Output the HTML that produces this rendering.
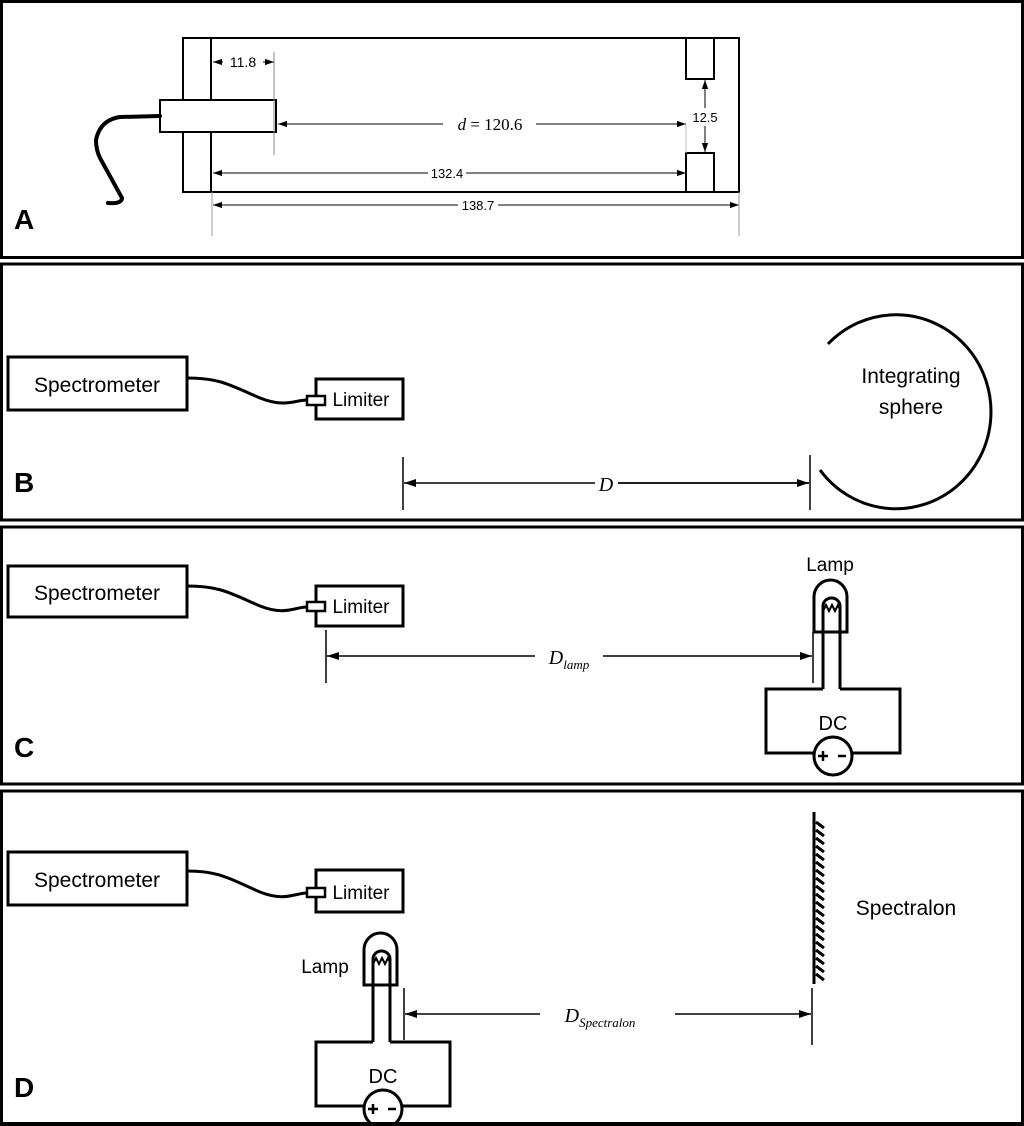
<!DOCTYPE html>
<html><head><meta charset="utf-8"><style>
html,body{margin:0;padding:0;background:#fff}
svg{display:block}
.s{font-family:"Liberation Sans","DejaVu Sans",sans-serif}
.r{font-family:"Liberation Serif",serif;font-style:italic}
</style></head><body>
<svg width="1024" height="1126" viewBox="0 0 1024 1126" xmlns="http://www.w3.org/2000/svg">
<defs>
<marker id="a" viewBox="0 0 12 8" refX="12" refY="4" markerWidth="12" markerHeight="8" markerUnits="userSpaceOnUse" orient="auto-start-reverse"><path d="M0,0L12,4L0,8z" fill="#000"/></marker>
<marker id="as" viewBox="0 0 10 7" refX="10" refY="3.5" markerWidth="9" markerHeight="7" markerUnits="userSpaceOnUse" orient="auto-start-reverse"><path d="M0,0L10,3.5L0,7z" fill="#000"/></marker>
<g id="lamp" fill="none" stroke="#000" stroke-width="3">
 <path d="M814,632 L814,597 A16.5,17 0 0 1 847,597 L847,632 Z"/>
 <path d="M823,689 L823,606 A8.5,8 0 0 1 840,606 L840,689"/>
 <path d="M823,611 l3,-6 l3,6 l3,-6 l3,6 l3,-6 l2,4" stroke-width="2"/>
 <path d="M823,689 L766,689 L766,753 L814,753 M852,753 L900,753 L900,689 L840,689"/>
 <circle cx="833" cy="756" r="19"/>
 <path d="M818,756 h10 M823,751 v10 M838,756 h8" stroke-width="2.5"/>
</g>
</defs>
<!-- panels -->
<g fill="none" stroke="#000" stroke-width="3">
<rect x="1.5" y="1.5" width="1021" height="256"/>
<rect x="1.5" y="264" width="1021" height="256"/>
<rect x="1.5" y="527" width="1021" height="257"/>
<rect x="1.5" y="791" width="1021" height="333"/>
</g>
<g class="s" font-weight="bold" font-size="28">
<text x="14" y="229">A</text><text x="14" y="492">B</text><text x="14" y="757">C</text><text x="14" y="1097">D</text>
</g>

<!-- Panel A -->
<g fill="none" stroke="#000" stroke-width="2">
<rect x="183" y="38" width="556" height="154"/>
<path d="M211,38 V100 M211,132 V192"/>
<rect x="160" y="100" width="116" height="32" fill="#fff"/>
<rect x="686" y="38" width="28" height="41"/>
<rect x="686" y="153" width="28" height="39"/>
<path d="M160,116 L120,117 Q100,120 96,140 Q96,150 100,158 L122,198 Q122,204 108,203" stroke-width="4" stroke-linecap="round"/>
</g>
<g fill="none" stroke="#000" stroke-width="1">
<path d="M274,52 V155" stroke="#888"/>
<path d="M213,62 H274" marker-start="url(#as)" marker-end="url(#as)"/>
<path d="M278,124 H443 M536,124 H686" marker-end="url(#as)"/>
<path d="M278,124 H290" marker-start="url(#as)"/>
<path d="M705,80 V152" marker-start="url(#as)" marker-end="url(#as)"/>
<path d="M213,173 H686" marker-start="url(#as)" marker-end="url(#as)"/>
<path d="M213,205 H739" marker-start="url(#as)" marker-end="url(#as)"/>
<path d="M212,192 V236 M739,192 V236" stroke="#999"/>
<path d="M686,124 V153" stroke="#bbb"/>
</g>
<rect x="223" y="54" width="40" height="16" fill="#fff"/>
<text class="s" x="243" y="67" font-size="14" text-anchor="middle">11.8</text>
<text x="490" y="130" font-size="17" text-anchor="middle" font-family="Liberation Serif,serif"><tspan font-style="italic">d</tspan> = 120.6</text>
<rect x="688" y="108" width="34" height="18" fill="#fff"/>
<text class="s" x="705" y="122" font-size="13" text-anchor="middle">12.5</text>
<rect x="428" y="166" width="38" height="14" fill="#fff"/>
<text class="s" x="447" y="178" font-size="13" text-anchor="middle">132.4</text>
<rect x="458" y="198" width="40" height="14" fill="#fff"/>
<text class="s" x="478" y="210" font-size="13" text-anchor="middle">138.7</text>

<!-- Panel B -->
<g fill="none" stroke="#000" stroke-width="3">
<rect x="8" y="357" width="179" height="53"/>
<rect x="316" y="379" width="87" height="40"/>
<rect x="307" y="396" width="18" height="9" fill="#fff" stroke-width="2.5"/>
<path d="M187,378 C220,378 230,385 260,398 C285,408 295,400 307,400"/>
<path d="M828,344 A95,97 0 1 1 820,470"/>
</g>
<text class="s" x="97" y="392" font-size="21" text-anchor="middle">Spectrometer</text>
<text class="s" x="361" y="406" font-size="19" text-anchor="middle">Limiter</text>
<text class="s" x="911" y="383" font-size="21" text-anchor="middle">Integrating</text>
<text class="s" x="911" y="414" font-size="21" text-anchor="middle">sphere</text>
<g fill="none" stroke="#000" stroke-width="1.5">
<path d="M403,457 V510 M810,455 V510"/>
<path d="M404,483 H595 M618,483 H809" marker-start="url(#a)"/>
<path d="M618,483 H809" marker-end="url(#a)"/>
</g>
<text class="r" x="606" y="491" font-size="20" text-anchor="middle">D</text>

<!-- Panel C -->
<g fill="none" stroke="#000" stroke-width="3">
<rect x="8" y="566" width="179" height="51"/>
<rect x="316" y="586" width="87" height="40"/>
<rect x="307" y="602" width="18" height="9" fill="#fff" stroke-width="2.5"/>
<path d="M187,586 C220,586 230,593 260,606 C285,616 295,607 307,607"/>
</g>
<text class="s" x="97" y="600" font-size="21" text-anchor="middle">Spectrometer</text>
<text class="s" x="361" y="613" font-size="19" text-anchor="middle">Limiter</text>
<use href="#lamp"/>
<text class="s" x="830" y="571" font-size="19" text-anchor="middle">Lamp</text>
<text class="s" x="833" y="730" font-size="20" text-anchor="middle">DC</text>
<g fill="none" stroke="#000" stroke-width="1.5">
<path d="M326,630 V683 M813,632 V683"/>
<path d="M327,656 H535" marker-start="url(#a)"/>
<path d="M603,656 H812" marker-end="url(#a)"/>
</g>
<text class="r" x="569" y="664" font-size="20" text-anchor="middle">D<tspan font-size="13" dy="5">lamp</tspan></text>

<!-- Panel D -->
<g fill="none" stroke="#000" stroke-width="3">
<rect x="8" y="852" width="179" height="53"/>
<rect x="316" y="870" width="87" height="42"/>
<rect x="307" y="888" width="18" height="9" fill="#fff" stroke-width="2.5"/>
<path d="M187,871 C220,871 230,879 260,892 C285,902 295,893 307,893"/>
<path d="M814,812 V984"/>
</g>
<path d="M816,822 l8,6 M816,830 l8,6 M816,838 l8,6 M816,846 l8,6 M816,854 l8,6 M816,862 l8,6 M816,870 l8,6 M816,878 l8,6 M816,886 l8,6 M816,894 l8,6 M816,902 l8,6 M816,910 l8,6 M816,918 l8,6 M816,926 l8,6 M816,934 l8,6 M816,942 l8,6 M816,950 l8,6 M816,958 l8,6 M816,966 l8,6 M816,974 l8,6" stroke="#000" stroke-width="3"/>
<text class="s" x="97" y="887" font-size="21" text-anchor="middle">Spectrometer</text>
<text class="s" x="361" y="899" font-size="19" text-anchor="middle">Limiter</text>
<text class="s" x="906" y="915" font-size="21" text-anchor="middle">Spectralon</text>
<g transform="translate(-450,353)"><use href="#lamp"/></g>
<text class="s" x="325" y="973" font-size="19" text-anchor="middle">Lamp</text>
<text class="s" x="383" y="1083" font-size="20" text-anchor="middle">DC</text>
<g fill="none" stroke="#000" stroke-width="1.5">
<path d="M404,988 V1040 M812,988 V1045"/>
<path d="M405,1014 H540" marker-start="url(#a)"/>
<path d="M675,1014 H811" marker-end="url(#a)"/>
</g>
<text class="r" x="600" y="1022" font-size="20" text-anchor="middle">D<tspan font-size="13" dy="5">Spectralon</tspan></text>
<rect x="0" y="1122" width="1024" height="4" fill="#000"/>
</svg>
</body></html>
